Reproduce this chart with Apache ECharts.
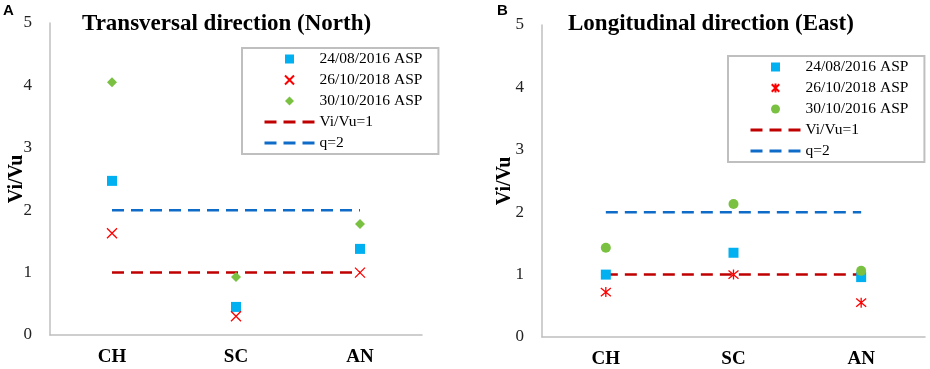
<!DOCTYPE html>
<html>
<head>
<meta charset="utf-8">
<script src="https://cdn.jsdelivr.net/npm/echarts@6/dist/echarts.min.js"></script>
<style>
  html, body { margin: 0; padding: 0; background: #ffffff; }
  #chart { width: 930px; height: 369px; }
</style>
</head>
<body>
<div id="chart"></div>
<script>
// sites on the x axis
const categories = ['CH', 'SC', 'AN']
const seriesNames = ['24/08/2016 ASP', '26/10/2018 ASP', '30/10/2016 ASP', 'Vi/Vu=1', 'q=2']

// panel A: transversal direction (North)
const northAug2016 = [2.47, 0.45, 1.38]
const northOct2018 = [1.63, 0.30, 1.00]
const northOct2016 = [4.05, 0.93, 1.78]

// panel B: longitudinal direction (East)
const eastAug2016 = [1.00, 1.35, 0.96]
const eastOct2018 = [0.72, 1.00, 0.55]
const eastOct2016 = [1.43, 2.13, 1.06]

// reference lines
const ratioOne = [1, 1, 1]
const qTwo = [2, 2, 2]

const serif = 'Liberation Serif, Times New Roman, serif'
const squarePath = 'path://M0,0L10,0L10,10L0,10Z'
const diamondPath = 'path://M5,0L10,5L5,10L0,5Z'
const crossPath = 'path://M0,0L10,10M10,0L0,10'
const starPath = 'path://M0,0L10,10M10,0L0,10M5,-1L5,11'
const axisGrey = '#bfbfbf'

function xAxisFor (grid) {
  return {
    type: 'category',
    gridIndex: grid,
    data: categories,
    axisLine: { lineStyle: { color: axisGrey, width: 1.5 } },
    axisTick: { show: false },
    axisLabel: { color: '#000', fontFamily: serif, fontWeight: 'bold', fontSize: 19, margin: 13 }
  }
}

function yAxisFor (grid, gap) {
  return {
    type: 'value',
    gridIndex: grid,
    min: 0,
    max: 5,
    interval: 1,
    name: 'Vi/Vu',
    nameLocation: 'middle',
    nameGap: gap,
    nameMoveOverlap: false,
    nameTextStyle: { color: '#000', fontFamily: serif, fontWeight: 'bold', fontSize: 20 },
    axisLine: { show: true, lineStyle: { color: axisGrey, width: 1.5 } },
    axisTick: { show: false },
    splitLine: { show: false },
    axisLabel: { color: '#222', fontFamily: serif, fontSize: 17, margin: 18 }
  }
}

// line items keep the dashed stroke but hide the dot that echarts adds
const hiddenDot = { color: 'rgba(0,0,0,0)', borderWidth: 0 }
const legendDash = { width: 3, type: [12, 7] }

function legendFor (left, top, crossIcon, dotIcon) {
  return {
    orient: 'vertical',
    left: left,
    top: top,
    padding: [3, 16, 3, 21],
    itemWidth: 50,
    itemHeight: 9,
    itemGap: 5,
    symbolKeepAspect: true,
    backgroundColor: '#fff',
    borderColor: axisGrey,
    borderWidth: 2,
    borderRadius: 0,
    textStyle: { color: '#000', fontFamily: serif, fontSize: 15.5 },
    data: [
      { name: seriesNames[0], icon: squarePath },
      { name: seriesNames[1], icon: crossIcon },
      { name: seriesNames[2], icon: dotIcon },
      { name: seriesNames[3], itemStyle: hiddenDot, lineStyle: legendDash },
      { name: seriesNames[4], itemStyle: hiddenDot, lineStyle: legendDash }
    ]
  }
}

function refLine (name, data, color, grid) {
  return {
    name: name,
    type: 'line',
    xAxisIndex: grid,
    yAxisIndex: grid,
    data: data,
    symbol: 'none',
    itemStyle: { color: color },
    lineStyle: { color: color, width: 2.5, type: [12, 7] },
    z: 1
  }
}

const letterStyle = { fontFamily: 'Liberation Sans, Arial', fontWeight: 'bold', fontSize: 15, color: '#000' }
const titleStyle = { fontFamily: serif, fontWeight: 'bold', fontSize: 23, color: '#000' }

const chart = echarts.init(document.getElementById('chart'))
chart.setOption({
  animation: false,
  title: [
    { text: 'A', left: 3, top: 3, padding: 0, textStyle: letterStyle },
    { text: 'B', left: 497, top: 3, padding: 0, textStyle: letterStyle },
    { text: 'Transversal direction (North)', left: 82, top: 13, padding: 0, textStyle: titleStyle },
    { text: 'Longitudinal direction (East)', left: 568, top: 13, padding: 0, textStyle: titleStyle }
  ],
  legend: [
    legendFor(242, 48, crossPath, diamondPath),
    legendFor(728, 56, starPath, 'circle')
  ],
  grid: [
    { left: 50, right: 508, top: 23, bottom: 34 },
    { left: 542, right: 5, top: 25, bottom: 32 }
  ],
  xAxis: [xAxisFor(0), xAxisFor(1)],
  yAxis: [yAxisFor(0, 23), yAxisFor(1, 27)],
  series: [
    refLine(seriesNames[3], ratioOne, '#c00000', 0),
    refLine(seriesNames[4], qTwo, '#0e6bc7', 0),
    { name: seriesNames[0], type: 'scatter', xAxisIndex: 0, yAxisIndex: 0, data: northAug2016, symbol: 'rect', symbolSize: 10, itemStyle: { color: '#00b0f0', opacity: 1 } },
    { name: seriesNames[1], type: 'scatter', xAxisIndex: 0, yAxisIndex: 0, data: northOct2018, symbol: crossPath, symbolSize: 10, itemStyle: { color: 'none', borderColor: '#ff0000', borderWidth: 1.3, opacity: 1 } },
    { name: seriesNames[2], type: 'scatter', xAxisIndex: 0, yAxisIndex: 0, data: northOct2016, symbol: 'diamond', symbolSize: 10, itemStyle: { color: '#7ac142', opacity: 1 } },
    refLine(seriesNames[3], ratioOne, '#c00000', 1),
    refLine(seriesNames[4], qTwo, '#0e6bc7', 1),
    { name: seriesNames[0], type: 'scatter', xAxisIndex: 1, yAxisIndex: 1, data: eastAug2016, symbol: 'rect', symbolSize: 10, itemStyle: { color: '#00b0f0', opacity: 1 } },
    { name: seriesNames[1], type: 'scatter', xAxisIndex: 1, yAxisIndex: 1, data: eastOct2018, symbol: starPath, symbolSize: 10, itemStyle: { color: 'none', borderColor: '#ff0000', borderWidth: 1.3, opacity: 1 } },
    { name: seriesNames[2], type: 'scatter', xAxisIndex: 1, yAxisIndex: 1, data: eastOct2016, symbol: 'circle', symbolSize: 10, itemStyle: { color: '#7ac142', opacity: 1 } }
  ]
})
</script>
</body>
</html>
